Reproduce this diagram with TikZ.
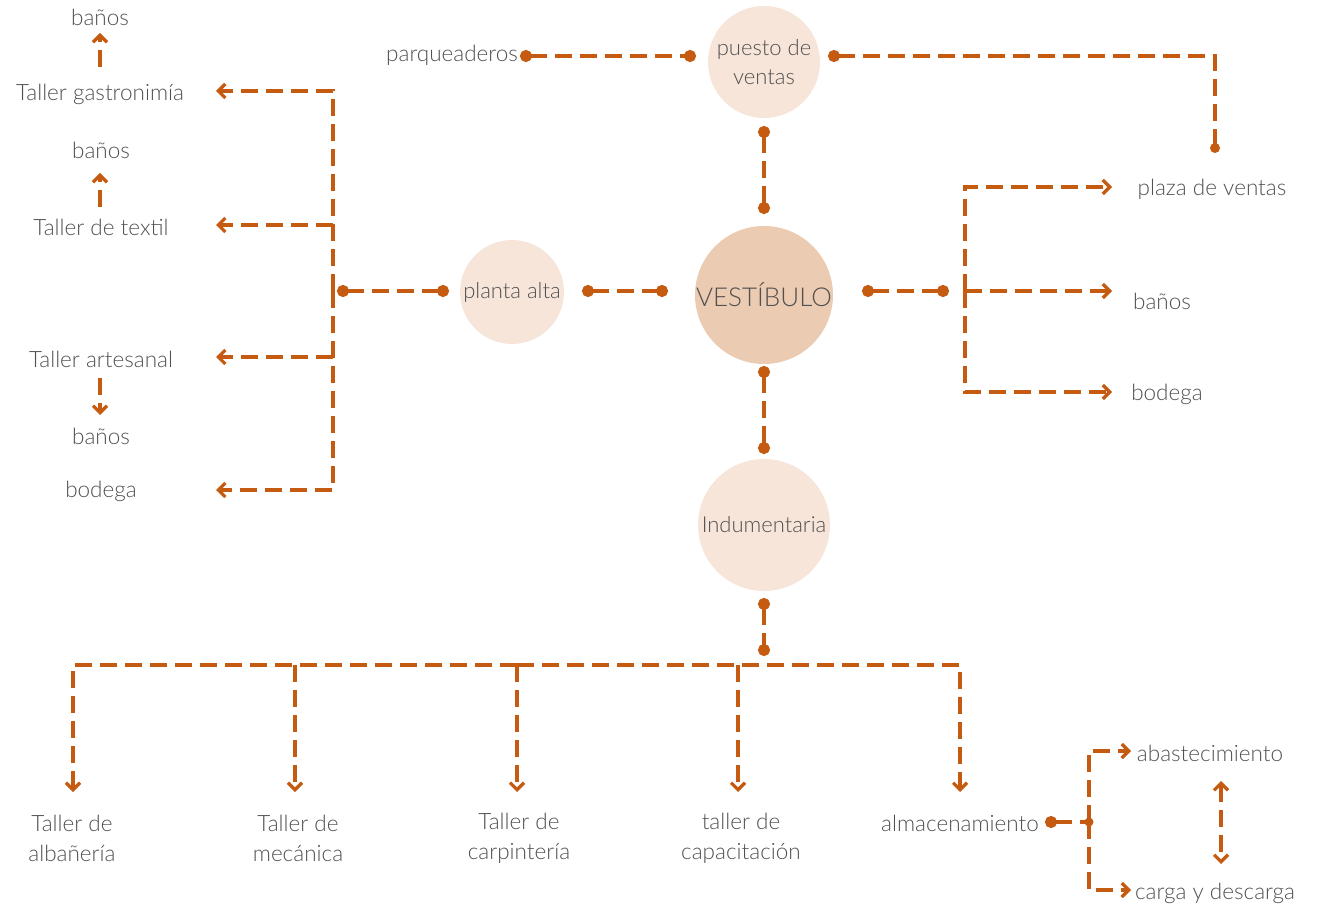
\documentclass[tikz,border=0pt]{standalone}
\usepackage{fontspec}
\IfFontExistsTF{Lato Light}{\setmainfont{Lato Light}}{\setmainfont{Open Sans}}
\usetikzlibrary{arrows.meta,calc}
\definecolor{ln}{HTML}{C55A11}
\definecolor{tx}{HTML}{505050}
\definecolor{cl}{HTML}{F7E5D9}
\definecolor{cd}{HTML}{EBCBB2}
\begin{document}
\begin{tikzpicture}[x=1pt,y=-1pt,
 lbl/.style={text=tx,font=\fontsize{22.5}{30}\selectfont,align=center,inner sep=0pt},
 bub/.style={circle,fill=cl,text=tx,font=\fontsize{22}{29}\selectfont,align=center,inner sep=0pt},
 con/.style={draw=ln,line width=3.2pt,dash pattern=on 17pt off 8pt},
 dd/.style={con,{Circle[length=12pt]}-{Circle[length=12pt]}},
 ar/.style={con,-{Straight Barb[length=7pt,width=14pt]}},
 dar/.style={con,{Straight Barb[length=7pt,width=14pt]}-{Straight Barb[length=7pt,width=14pt]}},
]
\useasboundingbox (0,0) rectangle (1317,909);

% bubbles
\node[bub,minimum size=112pt] (pv) at (764,62) {puesto de\\ventas};
\node[bub,fill=cd,minimum size=138pt,font=\fontsize{26}{30}\selectfont] (vest) at (764,295) {VESTÍBULO};
\node[bub,minimum size=104pt] (pa) at (512,292) {planta alta};
\node[bub,minimum size=132pt] (ind) at (764,525) {Indumentaria};

% left labels
\node[lbl] (b1) at (100,17) {baños};
\node[lbl] (tg) at (100,94) {Taller gastronimía};
\node[lbl] (b2) at (101,150) {baños};
\node[lbl] (tt) at (101,227) {Taller de textil};
\node[lbl] (ta) at (101,359) {Taller artesanal};
\node[lbl] (b3) at (101,436) {baños};
\node[lbl] (bo1) at (101,491) {bodega};
\node[lbl,anchor=east] (pq) at (518,55) {parqueaderos};

% right labels
\node[lbl] (pz) at (1212,189) {plaza de ventas};
\node[lbl] (b4) at (1162,301) {baños};
\node[lbl] (bo2) at (1167,394) {bodega};

% bottom labels
\node[lbl] (alb) at (72,838) {Taller de\\albañería};
\node[lbl] (mec) at (298,838) {Taller de\\mecánica};
\node[lbl] (car) at (519,838) {Taller de\\carpintería};
\node[lbl] (cap) at (741,838) {taller de\\capacitación};
\node[lbl] (alm) at (960,823) {almacenamiento};
\node[lbl] (ab) at (1210,753) {abastecimiento};
\node[lbl] (cy) at (1215,893) {carga y descarga};

% coordinates
\coordinate (pq1) at (520,56);
\coordinate (pq2) at (696,56);
\coordinate (pv1) at (828,56);
\coordinate (pvc) at (1215,56);
\coordinate (pv2) at (1215,148);
\coordinate (vt1) at (764,126);
\coordinate (vt2) at (764,214);
\coordinate (vl1) at (582,291);
\coordinate (vl2) at (668,291);
\coordinate (pl1) at (449,291);
\coordinate (pl2) at (337,291);
\coordinate (lt) at (333,91);
\coordinate (l2) at (333,225);
\coordinate (lm) at (333,291);
\coordinate (l3) at (333,357);
\coordinate (lb) at (333,490);
\coordinate (vr1) at (862,291);
\coordinate (vr2) at (949,291);
\coordinate (rt) at (965,187);
\coordinate (rm) at (965,291);
\coordinate (rb) at (965,392);
\coordinate (vb1) at (764,366);
\coordinate (vb2) at (764,454);
\coordinate (ib1) at (764,598);
\coordinate (ib2) at (764,656);
\coordinate (h1) at (73,665);
\coordinate (h2) at (295,665);
\coordinate (h3) at (517,665);
\coordinate (h4) at (738,665);
\coordinate (h5) at (960,665);
\coordinate (am1) at (1045,822);
\coordinate (am2) at (1089,822);
\coordinate (at) at (1089,751);
\coordinate (ab2) at (1089,890);

% top
\draw[dd] (pq1) -- (pq2);
\draw[con,{Circle[length=12pt]}-] (pv1) -- (pvc) -- (pv2);
\fill[ln] (pv2) circle (5pt);
\draw[dd] (vt1) -- (vt2);

% left
\draw[dd] (vl1) -- (vl2);
\draw[dd] (pl1) -- (pl2);
\draw[ar] (lm) -- (lt) -- (216,91);
\draw[ar] (l2) -- (216,225);
\draw[ar] (l3) -- (216,357);
\draw[ar] (lm) -- (lb) -- (216,490);
\draw[ar] (100,67) -- (100,33);
\draw[ar] (100,207) -- (100,173);
\draw[ar] (100,378) -- (100,415);

% right
\draw[dd] (vr1) -- (vr2);
\draw[ar] (rm) -- (rt) -- (1112,187);
\draw[ar] (rm) -- (1112,291);
\draw[ar] (rm) -- (rb) -- (1112,392);

% bottom
\draw[dd] (vb1) -- (vb2);
\draw[dd] (ib1) -- (ib2);
\draw[ar] (h3) -- (h1) -- (73,792);
\draw[ar] (h3) -- (h5) -- (960,792);
\draw[ar] (h2) -- (295,792);
\draw[ar] (h3) -- (517,792);
\draw[ar] (h4) -- (738,792);

% almacenamiento
\draw[con,{Circle[length=12pt]}-] (am1) -- (am2);
\fill[ln] (am2) circle (4.5pt);
\draw[ar] (am2) -- (at) -- (1131,751);
\draw[ar] (am2) -- (ab2) -- (1131,890);
\draw[dar] (1221,781) -- (1221,864);
\end{tikzpicture}
\end{document}
